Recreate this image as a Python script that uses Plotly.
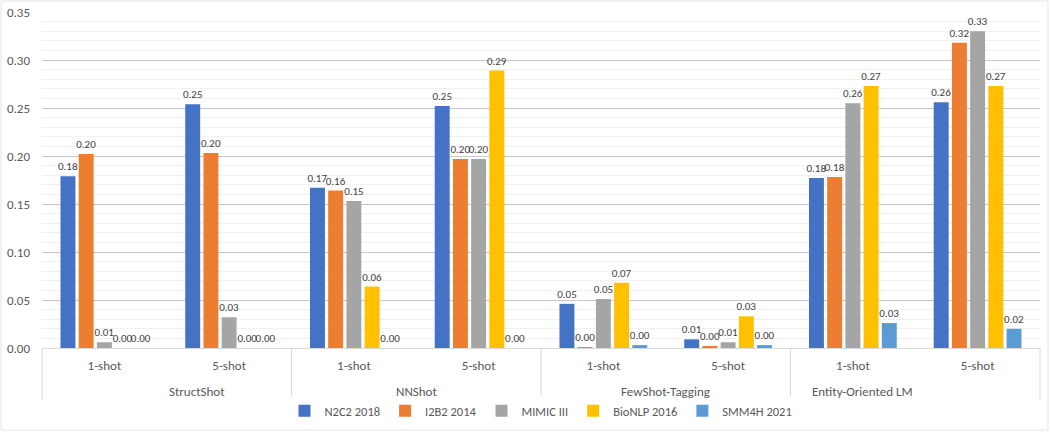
import plotly.graph_objects as go

methods = ["StructShot", "StructShot", "NNShot", "NNShot", "FewShot-Tagging", "FewShot-Tagging",
           "Entity-Oriented LM", "Entity-Oriented LM"]
shots = ["1-shot", "5-shot"] * 4
groups = ["StructShot", "NNShot", "FewShot-Tagging", "Entity-Oriented LM"]

series_names = ["N2C2 2018", "I2B2 2014", "MIMIC III", "BioNLP 2016", "SMM4H 2021"]
n2c2 = [0.179, 0.254, 0.167, 0.252, 0.046, 0.009, 0.177, 0.256]
i2b2 = [0.202, 0.203, 0.164, 0.197, 0.001, 0.002, 0.178, 0.318]
mimic = [0.006, 0.032, 0.153, 0.197, 0.051, 0.006, 0.255, 0.330]
bionlp = [0.000, 0.000, 0.064, 0.289, 0.068, 0.033, 0.273, 0.273]
smm4h = [0.000, 0.000, 0.000, 0.000, 0.003, 0.003, 0.026, 0.020]
colors = ["#4472C4", "#ED7D31", "#A5A5A5", "#FFC000", "#5B9BD5"]

font_family = "Carlito, Lato, 'Open Sans', sans-serif"

W, H = 1050, 432
ML, MR, MT, MB = 42, 10, 12, 84
PW, PH = W - ML - MR, H - MT - MB

idx = list(range(len(shots)))
n_cat = len(shots)

fig = go.Figure()
for name, vals, col in zip(series_names, [n2c2, i2b2, mimic, bionlp, smm4h], colors):
    fig.add_trace(go.Bar(
        x=idx, y=vals, name=name,
        marker=dict(color=col, line=dict(width=0)),
        texttemplate="%{y:.2f}", textposition="outside", constraintext="none",
        textfont=dict(size=11, color="#404040", family=font_family),
        cliponaxis=False,
    ))

annotations = []
shapes = []
for g in groups:
    members = [i for i, m in enumerate(methods) if m == g]
    center = (min(members) + max(members) + 1) / 2 / n_cat
    annotations.append(dict(text=g, xref="paper", yref="paper", x=center, y=0,
                            yshift=-43, showarrow=False, yanchor="middle",
                            font=dict(size=13, color="#595959", family=font_family)))
bounds = [0] + [i for i in range(1, n_cat) if methods[i] != methods[i - 1]] + [n_cat]
for b in bounds:
    shapes.append(dict(type="line", xref="paper", yref="paper", x0=b / n_cat, x1=b / n_cat,
                       y0=0, y1=-52 / PH, line=dict(color="#d9d9d9", width=1)))
shapes.append(dict(type="rect", xref="paper", yref="paper",
                   x0=(1 - ML) / PW, x1=(W - 2 - ML) / PW,
                   y0=-(H - 2 - (MT + PH)) / PH, y1=1 + (MT - 1) / PH,
                   line=dict(color="#e3e3e3", width=1), fillcolor="rgba(0,0,0,0)", layer="below"))

fig.update_layout(
    width=W, height=H,
    margin=dict(l=ML, r=MR, t=MT, b=MB, autoexpand=False),
    paper_bgcolor="white", plot_bgcolor="white",
    barmode="group", bargap=0.27, bargroupgap=0.18,
    font=dict(family=font_family, size=13, color="#595959"),
    legend=dict(orientation="h", x=0.5, xanchor="center", y=-(411 - MT - PH) / PH, yanchor="middle",
                font=dict(size=12.5, color="#595959"), itemwidth=30, traceorder="normal",
                tracegroupgap=0),
    annotations=annotations, shapes=shapes,
    showlegend=True,
)
fig.update_yaxes(range=[0, 0.35], dtick=0.05, tickformat=".2f", automargin=False,
                 showgrid=True, gridcolor="#c8c8c8", gridwidth=1,
                 minor=dict(dtick=0.01, showgrid=True, gridcolor="#f1f1f1", gridwidth=1),
                 zeroline=False, showline=False, ticks="", ticklabelstandoff=11,
                 tickfont=dict(size=13, color="#595959"))
fig.update_xaxes(range=[-0.5, n_cat - 0.5], tickvals=idx, ticktext=shots, automargin=False,
                 showline=True, linecolor="#d9d9d9", showgrid=False, zeroline=False,
                 ticks="", ticklabelstandoff=5,
                 tickfont=dict(size=13, color="#595959"))

fig.write_html("out.html", config={"displayModeBar": False},
               post_script="document.body.style.margin='0';document.body.style.padding='0';")
